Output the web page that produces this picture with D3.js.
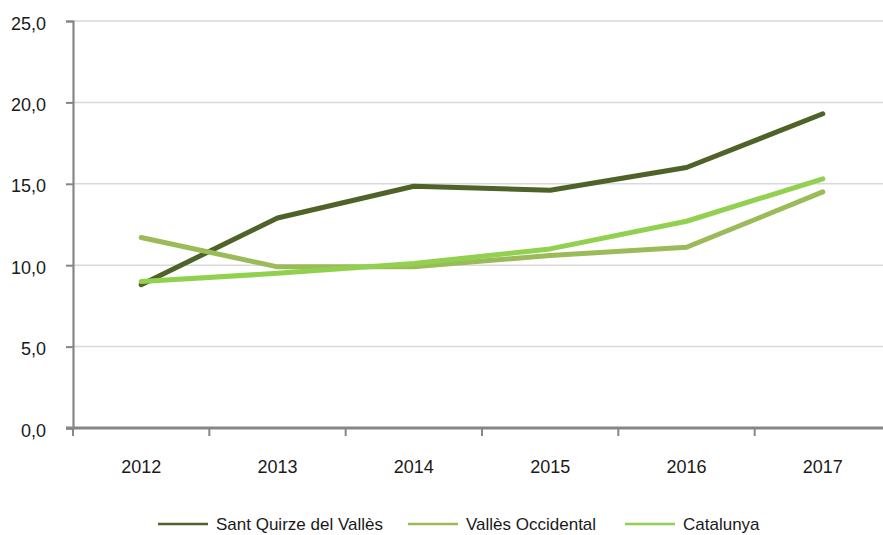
<html>
<head>
<meta charset="utf-8">
<title>Sant Quirze del Vallès</title>
<style>
  body { margin: 0; background: #fff; }
  text { font-family: "Liberation Sans", Arial, sans-serif; fill: #1a1a1a; }
</style>
</head>
<body>
<script src="https://cdn.jsdelivr.net/npm/d3@7/dist/d3.min.js"></script>
<script>
var width = 883;
var height = 535;

// dades
var anys = ["2012", "2013", "2014", "2015", "2016", "2017"];
var santQuirze = [8.8, 12.9, 14.85, 14.6, 16.0, 19.3];
var vallesOcc = [11.7, 9.9, 9.9, 10.6, 11.1, 14.5];
var catalunya = [9.0, 9.5, 10.1, 11.0, 12.7, 15.3];
var yTicks = [0, 5, 10, 15, 20, 25];

var series = [
  { nom: "Sant Quirze del Vallès", valors: santQuirze, color: "#4f6228" },
  { nom: "Vallès Occidental", valors: vallesOcc, color: "#9bbb59" },
  { nom: "Catalunya", valors: catalunya, color: "#92d050" }
];

var mLeft = 73, mTop = 21, mBottom = 428, mRight = 891;

var svg = d3.select("body").append("svg")
  .attr("width", width)
  .attr("height", height);

var x = d3.scaleBand().domain(anys).range([mLeft, mRight]);
var y = d3.scaleLinear().domain([0, 25]).range([mBottom, mTop]);

// graella
svg.append("g").selectAll("line")
  .data(yTicks.filter(function(d){ return d > 0; }))
  .enter().append("line")
  .attr("x1", mLeft).attr("x2", width)
  .attr("y1", function(d){ return y(d); })
  .attr("y2", function(d){ return y(d); })
  .attr("stroke", "#d9d9d9")
  .attr("stroke-width", 1.5);

// eix Y
var yAxis = svg.append("g")
  .attr("transform", "translate(" + mLeft + ",0)")
  .call(d3.axisLeft(y).tickValues(yTicks).tickSize(7).tickPadding(20)
    .tickFormat(function(d){ return d3.format(".1f")(d).replace(".", ","); }));
yAxis.select(".domain").attr("stroke", "#868686").attr("stroke-width", 2.2);
yAxis.selectAll(".tick line").attr("stroke", "#868686").attr("stroke-width", 2);
yAxis.selectAll("text").attr("font-size", 18).attr("font-family", null)
  .attr("fill", "#1a1a1a").attr("dy", "0.45em");

// eix X
var xAxis = svg.append("g")
  .attr("transform", "translate(0," + mBottom + ")")
  .call(d3.axisBottom(x).tickSize(0).tickPadding(0));
xAxis.select(".domain").remove();
xAxis.append("line")
  .attr("x1", mLeft - 7).attr("x2", width)
  .attr("stroke", "#868686").attr("stroke-width", 3);
xAxis.selectAll(".sep")
  .data(anys)
  .enter().append("line")
  .attr("class", "sep")
  .attr("x1", function(d){ return x(d); })
  .attr("x2", function(d){ return x(d); })
  .attr("y1", 0).attr("y2", 8)
  .attr("stroke", "#868686").attr("stroke-width", 2);
xAxis.selectAll(".tick text").attr("font-size", 18).attr("font-family", null)
  .attr("fill", "#1a1a1a").attr("y", 45).attr("dy", 0);

// línies
var line = d3.line()
  .x(function(d, i){ return x(anys[i]) + x.bandwidth() / 2; })
  .y(function(d){ return y(d); });

svg.append("g").selectAll("path")
  .data(series)
  .enter().append("path")
  .attr("d", function(s){ return line(s.valors); })
  .attr("fill", "none")
  .attr("stroke", function(s){ return s.color; })
  .attr("stroke-width", 5)
  .attr("stroke-linecap", "round")
  .attr("stroke-linejoin", "round");

// llegenda
var legX = [158, 408, 625];
var leg = svg.append("g").selectAll("g")
  .data(series)
  .enter().append("g")
  .attr("transform", function(d, i){ return "translate(" + legX[i] + ",524)"; });
leg.append("line")
  .attr("x1", 0).attr("x2", 50)
  .attr("stroke", function(d){ return d.color; })
  .attr("stroke-width", 2.5);
leg.append("text")
  .attr("x", 58).attr("y", 6)
  .attr("font-size", 17)
  .text(function(d){ return d.nom; });
</script>
</body>
</html>
